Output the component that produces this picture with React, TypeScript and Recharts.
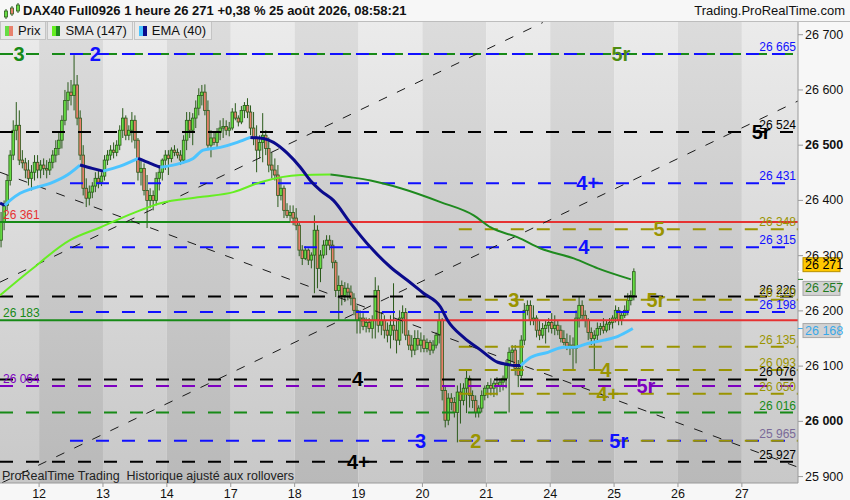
import React from 'react';
import {
  ComposedChart,
  Bar,
  Line,
  XAxis,
  YAxis,
  ReferenceLine,
  ReferenceArea,
  ReferenceDot
} from 'recharts';

// hourly candles [open, high, low, close], one array per session
const day11FirstHour = 8;
const day11 = [
  [26328, 26379, 26315, 26361], [26361, 26400, 26346, 26391], [26391, 26446, 26382, 26436],
  [26436, 26491, 26427, 26482], [26482, 26545, 26473, 26527], [26527, 26578, 26509, 26536],
  [26536, 26563, 26464, 26473], [26473, 26491, 26458, 26468], [26468, 26477, 26440, 26455],
  [26455, 26473, 26427, 26440], [26440, 26464, 26418, 26451], [26451, 26482, 26436, 26469],
  [26469, 26482, 26440, 26455]
];
const day12 = [
  [26455, 26473, 26440, 26464], [26464, 26476, 26446, 26458], [26458, 26473, 26440, 26455],
  [26455, 26476, 26446, 26469], [26469, 26491, 26458, 26482], [26482, 26509, 26469, 26494],
  [26494, 26523, 26482, 26509], [26509, 26554, 26494, 26545], [26545, 26600, 26536, 26581],
  [26581, 26614, 26563, 26596], [26596, 26618, 26572, 26590], [26590, 26663, 26563, 26609],
  [26609, 26627, 26536, 26549], [26549, 26563, 26473, 26482], [26482, 26500, 26409, 26422],
  [26422, 26440, 26388, 26404], [26404, 26427, 26391, 26415], [26415, 26433, 26404, 26426],
  [26426, 26451, 26415, 26440], [26440, 26455, 26422, 26433], [26433, 26451, 26426, 26444]
];
const day13 = [
  [26444, 26482, 26436, 26473], [26473, 26491, 26464, 26482], [26482, 26500, 26473, 26491],
  [26491, 26505, 26476, 26487], [26487, 26509, 26480, 26500], [26500, 26536, 26491, 26527],
  [26527, 26567, 26513, 26549], [26549, 26554, 26509, 26518], [26518, 26536, 26509, 26527],
  [26527, 26560, 26505, 26545], [26545, 26554, 26494, 26509], [26509, 26513, 26436, 26451],
  [26451, 26473, 26427, 26458], [26458, 26467, 26409, 26418], [26418, 26446, 26350, 26400],
  [26400, 26422, 26386, 26409], [26409, 26418, 26382, 26400], [26400, 26451, 26391, 26440],
  [26440, 26464, 26418, 26451], [26451, 26476, 26436, 26473], [26473, 26491, 26455, 26482]
];
const day14 = [
  [26482, 26491, 26446, 26476], [26476, 26496, 26469, 26491], [26491, 26500, 26480, 26487],
  [26487, 26494, 26476, 26482], [26482, 26491, 26464, 26473], [26473, 26518, 26467, 26509],
  [26509, 26560, 26491, 26545], [26545, 26560, 26513, 26527], [26527, 26558, 26500, 26549],
  [26549, 26581, 26531, 26567], [26567, 26603, 26554, 26590], [26590, 26609, 26572, 26596],
  [26596, 26610, 26554, 26563], [26563, 26581, 26491, 26500], [26500, 26527, 26478, 26513],
  [26513, 26523, 26500, 26505], [26505, 26531, 26494, 26523], [26523, 26545, 26509, 26531],
  [26531, 26549, 26513, 26534], [26534, 26545, 26518, 26527], [26527, 26542, 26516, 26531]
];
const day17 = [
  [26531, 26567, 26527, 26560], [26560, 26576, 26545, 26549], [26549, 26554, 26534, 26542],
  [26542, 26571, 26538, 26563], [26563, 26578, 26549, 26572], [26572, 26585, 26549, 26560],
  [26560, 26572, 26518, 26531], [26531, 26560, 26500, 26513], [26513, 26536, 26451, 26491],
  [26491, 26518, 26476, 26505], [26505, 26558, 26469, 26518], [26518, 26527, 26482, 26494],
  [26494, 26514, 26451, 26464], [26464, 26487, 26440, 26455], [26455, 26476, 26436, 26446],
  [26446, 26464, 26388, 26409], [26409, 26440, 26400, 26422], [26422, 26427, 26368, 26382],
  [26382, 26395, 26368, 26373], [26373, 26391, 26360, 26378], [26378, 26391, 26355, 26368]
];
const day18 = [
  [26368, 26386, 26346, 26355], [26355, 26360, 26299, 26310], [26310, 26319, 26283, 26295],
  [26295, 26317, 26292, 26310], [26310, 26313, 26283, 26292], [26292, 26306, 26277, 26301],
  [26301, 26373, 26232, 26346], [26346, 26355, 26241, 26277], [26277, 26310, 26252, 26301],
  [26301, 26328, 26295, 26319], [26319, 26337, 26301, 26328], [26328, 26337, 26310, 26319],
  [26319, 26328, 26277, 26288], [26288, 26292, 26225, 26237], [26237, 26264, 26183, 26246],
  [26246, 26255, 26210, 26228], [26228, 26252, 26216, 26241], [26241, 26250, 26219, 26234],
  [26234, 26246, 26210, 26223], [26223, 26232, 26192, 26201], [26201, 26210, 26159, 26183]
];
const day19 = [
  [26183, 26201, 26159, 26187], [26187, 26196, 26165, 26172], [26172, 26188, 26161, 26179],
  [26179, 26187, 26161, 26168], [26168, 26192, 26150, 26183], [26183, 26261, 26150, 26237],
  [26237, 26246, 26161, 26174], [26174, 26198, 26156, 26183], [26183, 26192, 26150, 26165],
  [26165, 26179, 26143, 26156], [26156, 26192, 26132, 26174], [26174, 26250, 26147, 26165],
  [26165, 26183, 26123, 26147], [26147, 26201, 26138, 26187], [26187, 26210, 26159, 26197],
  [26197, 26205, 26147, 26156], [26156, 26165, 26129, 26138], [26138, 26156, 26116, 26129],
  [26129, 26165, 26120, 26150], [26150, 26165, 26129, 26138], [26138, 26161, 26125, 26147]
];
const day20 = [
  [26147, 26156, 26125, 26132], [26132, 26150, 26125, 26143], [26143, 26147, 26120, 26129],
  [26129, 26147, 26123, 26138], [26138, 26161, 26132, 26156], [26156, 26197, 26141, 26183],
  [26183, 26187, 26038, 26056], [26056, 26065, 25989, 26002], [26002, 26051, 25993, 26042],
  [26042, 26051, 26020, 26034], [26034, 26044, 26007, 26016], [26016, 26065, 25962, 26053],
  [26053, 26069, 25996, 26038], [26038, 26069, 26029, 26060], [26060, 26092, 26015, 26078],
  [26078, 26083, 26025, 26047], [26047, 26056, 26024, 26038], [26038, 26047, 26007, 26016],
  [26016, 26029, 26007, 26024], [26024, 26056, 26016, 26047], [26047, 26065, 26038, 26060]
];
const day21 = [
  [26060, 26071, 26042, 26065], [26065, 26078, 26047, 26060], [26060, 26074, 26044, 26069],
  [26069, 26080, 26047, 26063], [26063, 26078, 26053, 26071], [26071, 26083, 26056, 26078],
  [26078, 26111, 26060, 26101], [26101, 26134, 26016, 26125], [26125, 26138, 26107, 26129],
  [26129, 26138, 26083, 26096], [26096, 26111, 26062, 26083], [26083, 26156, 26078, 26147],
  [26147, 26214, 26138, 26201], [26201, 26219, 26192, 26210], [26210, 26219, 26174, 26183],
  [26183, 26210, 26174, 26187], [26187, 26192, 26152, 26165], [26165, 26183, 26147, 26156],
  [26156, 26178, 26150, 26168], [26168, 26183, 26141, 26174], [26174, 26187, 26161, 26179]
];
const day24 = [
  [26179, 26196, 26159, 26168], [26168, 26192, 26156, 26174], [26174, 26183, 26156, 26165],
  [26165, 26174, 26143, 26150], [26150, 26165, 26138, 26143], [26143, 26159, 26129, 26134],
  [26134, 26156, 26120, 26138], [26138, 26152, 26092, 26132], [26132, 26201, 26105, 26187],
  [26187, 26225, 26170, 26210], [26210, 26219, 26183, 26192], [26192, 26201, 26170, 26183],
  [26183, 26187, 26147, 26161], [26161, 26170, 26138, 26150], [26150, 26165, 26092, 26156],
  [26156, 26179, 26147, 26168], [26168, 26178, 26156, 26172], [26172, 26187, 26159, 26165],
  [26165, 26183, 26161, 26176], [26176, 26187, 26165, 26179], [26179, 26192, 26168, 26187]
];
const day25 = [
  [26187, 26210, 26179, 26201], [26201, 26207, 26174, 26183], [26183, 26197, 26174, 26192],
  [26192, 26210, 26187, 26201], [26201, 26232, 26192, 26219], [26219, 26237, 26210, 26228],
  [26228, 26277, 26219, 26271]
];

const dayLabels = ['12', '13', '14', '17', '18', '19', '20', '21', '24', '25', '26', '27'];
const yTicks = [25900, 26000, 26100, 26200, 26300, 26400, 26500, 26600, 26700];

// [hour slot, value]
const smaPoints = [
  [0, 26228], [9.9, 26273], [23, 26328], [32.9, 26351], [43.8, 26377], [52.7, 26395],
  [65.8, 26406], [76.7, 26415], [85.6, 26433], [98.7, 26446], [108.6, 26447], [115.2, 26442],
  [121.8, 26436], [131.7, 26422], [144.8, 26397], [155.7, 26373], [161.3, 26351], [170.2, 26333],
  [177.7, 26313], [188.6, 26295], [196.5, 26277], [207.4, 26257]
];
const emaPoints = [
  [0, 26395], [1.6, 26391], [3.3, 26400], [6.6, 26413], [10.9, 26422], [16.5, 26431],
  [22.1, 26446], [26.3, 26464], [30.3, 26458], [33.9, 26453], [39.5, 26462], [45.4, 26476],
  [49.4, 26467], [52.7, 26460], [59.2, 26467], [63.5, 26476], [66.8, 26491], [72.4, 26496],
  [78, 26505], [82.3, 26514], [86.6, 26512], [89.9, 26505], [94.5, 26485], [98.7, 26460],
  [102, 26436], [105.3, 26418], [109.6, 26400], [115.2, 26359], [121.8, 26315], [128.4, 26279],
  [134, 26255], [139.2, 26232], [144.8, 26207], [147.1, 26183], [152.4, 26152], [158, 26129],
  [163.6, 26107], [166.9, 26103], [168.9, 26101], [171.2, 26101], [174.5, 26116], [180.1, 26125],
  [185.3, 26134], [188.6, 26134], [193.2, 26141], [198.5, 26147], [203.1, 26154], [208, 26168]
];

// horizontal levels
const blueLevels = [26665, 26431, 26315, 26198, 25965];
const blackLevels = [26524, 26226, 26076, 25927];
const oliveLevels = [26348, 26220, 26135, 26093, 26050, 25965];
const greenDashLevels = [26665, 26016];
const purpleLevels = [26064];
const blueFrom = 23;
const oliveFrom = 150.8;
const upperSolid = 26361;
const lowerSolid = 26183;
const upperRedFrom = 95.5;
const lowerRedFrom = 118.5;
const lowerGreenTo = 121.8;

// trend lines [x1, price1, x2, price2]
const trendLines = [
  [0.7, 25889, 262.3, 26580],
  [0, 26252, 178.4, 26722],
  [0, 26451, 262.3, 25917]
];

// wave labels [text, slot, price, colour]
const waveLabels: [string, number, number, string][] = [
  ['3', 6.3, 26665, 'green'], ['2', 31.3, 26665, 'blue'], ['5r', 204.1, 26665, 'olivegreen'],
  ['5r', 250.2, 26524, 'black'], ['4+', 193.2, 26431, 'blue'], ['5', 216.6, 26348, 'olive'],
  ['4', 191.9, 26315, 'blue'], ['3', 168.9, 26220, 'olive'], ['5r', 215.6, 26220, 'olive'],
  ['4', 199.1, 26093, 'olive'], ['4+', 199.8, 26050, 'olive'], ['5r', 212.3, 26064, 'purple'],
  ['4', 117.5, 26076, 'black'], ['3', 138.2, 25965, 'blue'], ['2', 156.4, 25965, 'olive'],
  ['5r', 203.4, 25965, 'blue'], ['4+', 117.8, 25927, 'black']
];

const lastPrice = 26271;
const smaLast = 26257;
const emaLast = 26168;

const COLORS: Record<string, string> = {
  blue: '#1010ff',
  black: '#000000',
  olive: '#9a9400',
  green: '#178a17',
  olivegreen: '#4f8c10',
  purple: '#7d00c0',
  red: '#e63232'
};

const FONT = '"Liberation Sans", Arial, sans-serif';
const SESSION0 = -8.15;
const HOURS = 21;
const XMAX = 262.3;
const YMIN = 25888.4;
const YMAX = 26723;

const fmt = (v: number) => `${Math.floor(v / 1000)} ${String(Math.round(v) % 1000).padStart(3, '0')}`;

const sessions = [day11, day12, day13, day14, day17, day18, day19, day20, day21, day24, day25];
const candles = sessions.flatMap((bars, k) =>
  bars.map(([o, h, l, c], i) => ({
    x: SESSION0 + HOURS * k + (k === 0 ? day11FirstHour : 0) + i + 0.5,
    o, h, l, c,
    range: [l, h]
  }))
);

const dayStarts = dayLabels.map((_, i) => SESSION0 + HOURS * (i + 1));

const splitRuns = (pts: number[][]) => {
  const runs: { up: boolean; pts: number[][] }[] = [];
  let cur = [pts[0]];
  let up = pts[1][1] >= pts[0][1];
  for (let i = 1; i < pts.length; i++) {
    const d = pts[i][1] - pts[i - 1][1];
    const nowUp = d === 0 ? up : d > 0;
    if (nowUp !== up && cur.length > 1) {
      runs.push({ up, pts: cur });
      cur = [pts[i - 1]];
    }
    up = nowUp;
    cur.push(pts[i]);
  }
  runs.push({ up, pts: cur });
  return runs;
};

const Candle = (props: any) => {
  const { x, y, width, height, payload } = props;
  if (!payload) return null;
  const { o, h, l, c } = payload;
  const top = Math.min(y, y + height);
  const hh = Math.abs(height);
  const cx = x + width / 2;
  const span = h - l || 1;
  const pix = (v: number) => top + ((h - v) / span) * hh;
  const bTop = pix(Math.max(o, c));
  const bBot = pix(Math.min(o, c));
  const up = c >= o;
  return (
    <g>
      <line x1={cx} x2={cx} y1={top} y2={top + hh} stroke="#2b5a1b" strokeWidth={1} />
      <rect
        x={cx - 1.3}
        y={bTop}
        width={2.6}
        height={Math.max(bBot - bTop, 1)}
        fill={up ? '#66dd44' : '#e8806c'}
        stroke="#2b5a1b"
        strokeWidth={0.8}
      />
    </g>
  );
};

const YTick = (props: any) => {
  const { x, y, payload } = props;
  const bold = payload.value === 26500 || payload.value === 26000;
  return (
    <text x={x} y={y + 4} fontSize={12.5} fontFamily={FONT} fontWeight={bold ? 700 : 400} fill="#111">
      {fmt(payload.value)}
    </text>
  );
};

const tag = (value: number, dy: number, fill: string, text: string, stroke: string) => (props: any) => {
  const { viewBox } = props;
  const px = viewBox.x;
  const py = viewBox.y;
  return (
    <g>
      <line x1={px} x2={px + 5} y1={py} y2={py} stroke={text} strokeWidth={1} />
      <rect x={px + 5} y={py - 7 + dy} width={37} height={14} fill={fill} stroke={stroke} strokeWidth={1} />
      <text x={px + 7} y={py + 4 + dy} fontSize={12.5} fontFamily={FONT} fill={text === '#ffffff' ? '#000' : text}>
        {fmt(value)}
      </text>
    </g>
  );
};

const levelValueLabels = [
  ...blueLevels.filter((p) => p !== 25965).map((p) => [p, COLORS.blue]),
  ...blackLevels.map((p) => [p, COLORS.black]),
  ...oliveLevels.filter((p) => p !== 25965).map((p) => [p, COLORS.olive]),
  [26016, COLORS.green],
  [25965, '#7a6a98']
] as [number, string][];

export default function App() {
  const dash = '13 13';
  const levelLine = (p: number, from: number, color: string, key: string, da = dash, w = 2) => (
    <ReferenceLine
      key={key}
      segment={[{ x: from, y: p }, { x: XMAX, y: p }]}
      stroke={color}
      strokeWidth={w}
      strokeDasharray={da}
      ifOverflow="visible"
    />
  );

  return (
    <div
      style={{
        position: 'fixed',
        left: 0,
        top: 0,
        width: 850,
        height: 500,
        background: '#f7f7f7',
        fontFamily: FONT,
        overflow: 'hidden'
      }}
    >
      <ComposedChart
        width={850}
        height={500}
        data={candles}
        margin={{ top: 22, right: 0, bottom: 0, left: 0 }}
      >
        <defs>
          <linearGradient id="bandLight" x1="0" y1="0" x2="0" y2="1">
            <stop offset="0%" stopColor="#ebebeb" />
            <stop offset="100%" stopColor="#c8c8c8" />
          </linearGradient>
          <linearGradient id="bandDark" x1="0" y1="0" x2="0" y2="1">
            <stop offset="0%" stopColor="#dcdcdc" />
            <stop offset="100%" stopColor="#b9b9b9" />
          </linearGradient>
        </defs>
        <XAxis
          type="number"
          dataKey="x"
          domain={[0, XMAX]}
          allowDataOverflow
          ticks={dayStarts}
          tickFormatter={(v: number) => dayLabels[dayStarts.findIndex((d) => Math.abs(d - v) < 0.01)] ?? ''}
          height={17}
          tickSize={4}
          tick={{ fontSize: 12.5, fill: '#111', fontFamily: FONT }}
          stroke="#9a9a9a"
          interval={0}
        />
        <YAxis
          orientation="right"
          type="number"
          domain={[YMIN, YMAX]}
          allowDataOverflow
          ticks={yTicks}
          width={52}
          tickSize={5}
          tick={<YTick />}
          stroke="#9a9a9a"
          interval={0}
        />
        {Array.from({ length: 13 }, (_, k) => {
          const s = SESSION0 + HOURS * k;
          return (
            <ReferenceArea
              key={`band${k}`}
              x1={Math.max(0, s)}
              x2={Math.min(XMAX, s + HOURS)}
              y1={YMIN}
              y2={YMAX}
              fill={k % 2 === 0 ? 'url(#bandLight)' : 'url(#bandDark)'}
              fillOpacity={1}
              stroke="none"
              ifOverflow="visible"
            />
          );
        })}

        {greenDashLevels.map((p, i) => levelLine(p, 0, COLORS.green, `gd${i}`))}
        {blueLevels.map((p, i) => levelLine(p, blueFrom, COLORS.blue, `bl${i}`))}
        {blackLevels.map((p, i) => levelLine(p, 0, COLORS.black, `bk${i}`))}
        {purpleLevels.map((p, i) => levelLine(p, 0, COLORS.purple, `pu${i}`))}
        {oliveLevels.map((p, i) => levelLine(p, oliveFrom, COLORS.olive, `ol${i}`))}
        <ReferenceLine segment={[{ x: 0, y: upperSolid }, { x: upperRedFrom, y: upperSolid }]} stroke={COLORS.green} strokeWidth={2} />
        <ReferenceLine segment={[{ x: upperRedFrom, y: upperSolid }, { x: XMAX, y: upperSolid }]} stroke={COLORS.red} strokeWidth={2} />
        <ReferenceLine segment={[{ x: 0, y: lowerSolid }, { x: lowerGreenTo, y: lowerSolid }]} stroke={COLORS.green} strokeWidth={2} />
        <ReferenceLine segment={[{ x: lowerRedFrom, y: lowerSolid }, { x: XMAX, y: lowerSolid }]} stroke={COLORS.red} strokeWidth={2} />

        {trendLines.map(([x1, y1, x2, y2], i) => (
          <ReferenceLine
            key={`tl${i}`}
            segment={[{ x: x1, y: y1 }, { x: x2, y: y2 }]}
            stroke="#1a1a1a"
            strokeWidth={1}
            strokeDasharray="9 11"
            ifOverflow="visible"
          />
        ))}

        {splitRuns(smaPoints).map((r, i) => (
          <Line
            key={`sma${i}`}
            data={r.pts.map(([x, v]) => ({ x, v }))}
            dataKey="v"
            type="monotone"
            stroke={r.up ? '#66ee22' : '#1f8a1f'}
            strokeWidth={2}
            dot={false}
            activeDot={false}
            isAnimationActive={false}
          />
        ))}
        {splitRuns(emaPoints).map((r, i) => (
          <Line
            key={`ema${i}`}
            data={r.pts.map(([x, v]) => ({ x, v }))}
            dataKey="v"
            type="monotone"
            stroke={r.up ? '#4cc4ff' : '#0b0b8c'}
            strokeWidth={3}
            dot={false}
            activeDot={false}
            isAnimationActive={false}
          />
        ))}

        <Bar dataKey="range" barSize={3} shape={(p: any) => <Candle {...p} />} isAnimationActive={false} />

        {levelValueLabels.map(([p, color], i) => (
          <ReferenceDot
            key={`vl${i}`}
            x={XMAX}
            y={p}
            r={0}
            fill="none"
            stroke="none"
            ifOverflow="visible"
            label={(props: any) => (
              <text
                x={props.viewBox.x - 2}
                y={props.viewBox.y - 3}
                textAnchor="end"
                fontSize={12}
                fontFamily={FONT}
                fill={color}
              >
                {fmt(p)}
              </text>
            )}
          />
        ))}
        {([[upperSolid, COLORS.red], [lowerSolid, COLORS.green], [26064, COLORS.purple]] as [number, string][]).map(
          ([p, color], i) => (
            <ReferenceDot
              key={`ll${i}`}
              x={0}
              y={p}
              r={0}
              fill="none"
              stroke="none"
              ifOverflow="visible"
              label={(props: any) => (
                <text x={props.viewBox.x + 3} y={props.viewBox.y - 3} fontSize={12} fontFamily={FONT} fill={color}>
                  {fmt(p)}
                </text>
              )}
            />
          )
        )}
        {waveLabels.map(([t, x, p, c], i) => (
          <ReferenceDot
            key={`wl${i}`}
            x={x}
            y={p}
            r={0}
            fill="none"
            stroke="none"
            ifOverflow="visible"
            label={(props: any) => (
              <text
                x={props.viewBox.x}
                y={props.viewBox.y + 7}
                textAnchor="middle"
                fontSize={20}
                fontWeight={700}
                fontFamily={FONT}
                fill={COLORS[c]}
              >
                {t}
              </text>
            )}
          />
        ))}

        <ReferenceDot x={XMAX} y={emaLast} r={0} fill="none" stroke="none" ifOverflow="visible"
          label={tag(emaLast, 2, '#d2d2d2', '#3aa8e8', '#a8a8a8')} />
        <ReferenceDot x={XMAX} y={smaLast} r={0} fill="none" stroke="none" ifOverflow="visible"
          label={tag(smaLast, 9, '#d2d2d2', '#1f7a1f', '#a8a8a8')} />
        <ReferenceDot x={XMAX} y={lastPrice} r={0} fill="none" stroke="none" ifOverflow="visible"
          label={tag(lastPrice, -7, '#ffc800', '#ffffff', '#b89000')} />
      </ComposedChart>

      {/* header */}
      <div
        style={{
          position: 'absolute',
          left: 0,
          top: 0,
          width: 850,
          height: 21,
          background: '#f7f7f7',
          borderBottom: '1px solid #bdbdbd'
        }}
      >
        <svg width={18} height={18} style={{ position: 'absolute', left: 3, top: 2 }}>
          <line x1={3} x2={3} y1={7} y2={17} stroke="#2b5a1b" />
          <rect x={1.5} y={9} width={3} height={6} fill="#66dd44" stroke="#2b5a1b" strokeWidth={0.8} />
          <line x1={9} x2={9} y1={4} y2={14} stroke="#2b5a1b" />
          <rect x={7.5} y={6} width={3} height={6} fill="#e8806c" stroke="#2b5a1b" strokeWidth={0.8} />
          <line x1={15} x2={15} y1={1} y2={11} stroke="#2b5a1b" />
          <rect x={13.5} y={3} width={3} height={6} fill="#66dd44" stroke="#2b5a1b" strokeWidth={0.8} />
        </svg>
        <div style={{ position: 'absolute', left: 23, top: 3, fontSize: 13, fontWeight: 700, color: '#111' }}>
          DAX40 Full0926 1 heure 26 271 +0,38 % 25 août 2026, 08:58:21
        </div>
        <div style={{ position: 'absolute', right: 5, top: 3, fontSize: 13, color: '#111' }}>
          Trading.ProRealTime.com
        </div>
      </div>

      {/* legend */}
      <div style={{ position: 'absolute', left: 0, top: 22, display: 'flex', fontSize: 13, color: '#111' }}>
        {[
          ['Prix', '#66dd44', '#e8806c'],
          ['SMA (147)', '#66ee22', '#1f8a1f'],
          ['EMA (40)', '#4cc4ff', '#0b0b8c']
        ].map(([t, c1, c2]) => (
          <div
            key={t}
            style={{
              display: 'flex',
              alignItems: 'center',
              height: 17,
              padding: '0 5px 0 4px',
              background: '#e9e9e9',
              border: '1px solid #c4c4c4',
              borderTop: 'none',
              marginRight: 1
            }}
          >
            <span style={{ width: 4, height: 10, background: c1, display: 'inline-block' }} />
            <span style={{ width: 4, height: 10, background: c2, display: 'inline-block', marginRight: 5 }} />
            {t}
          </div>
        ))}
      </div>

      <div style={{ position: 'absolute', left: 2, top: 469, fontSize: 12.5, color: '#222' }}>
        ProRealTime Trading&nbsp; Historique ajusté aux rollovers
      </div>
    </div>
  );
}
